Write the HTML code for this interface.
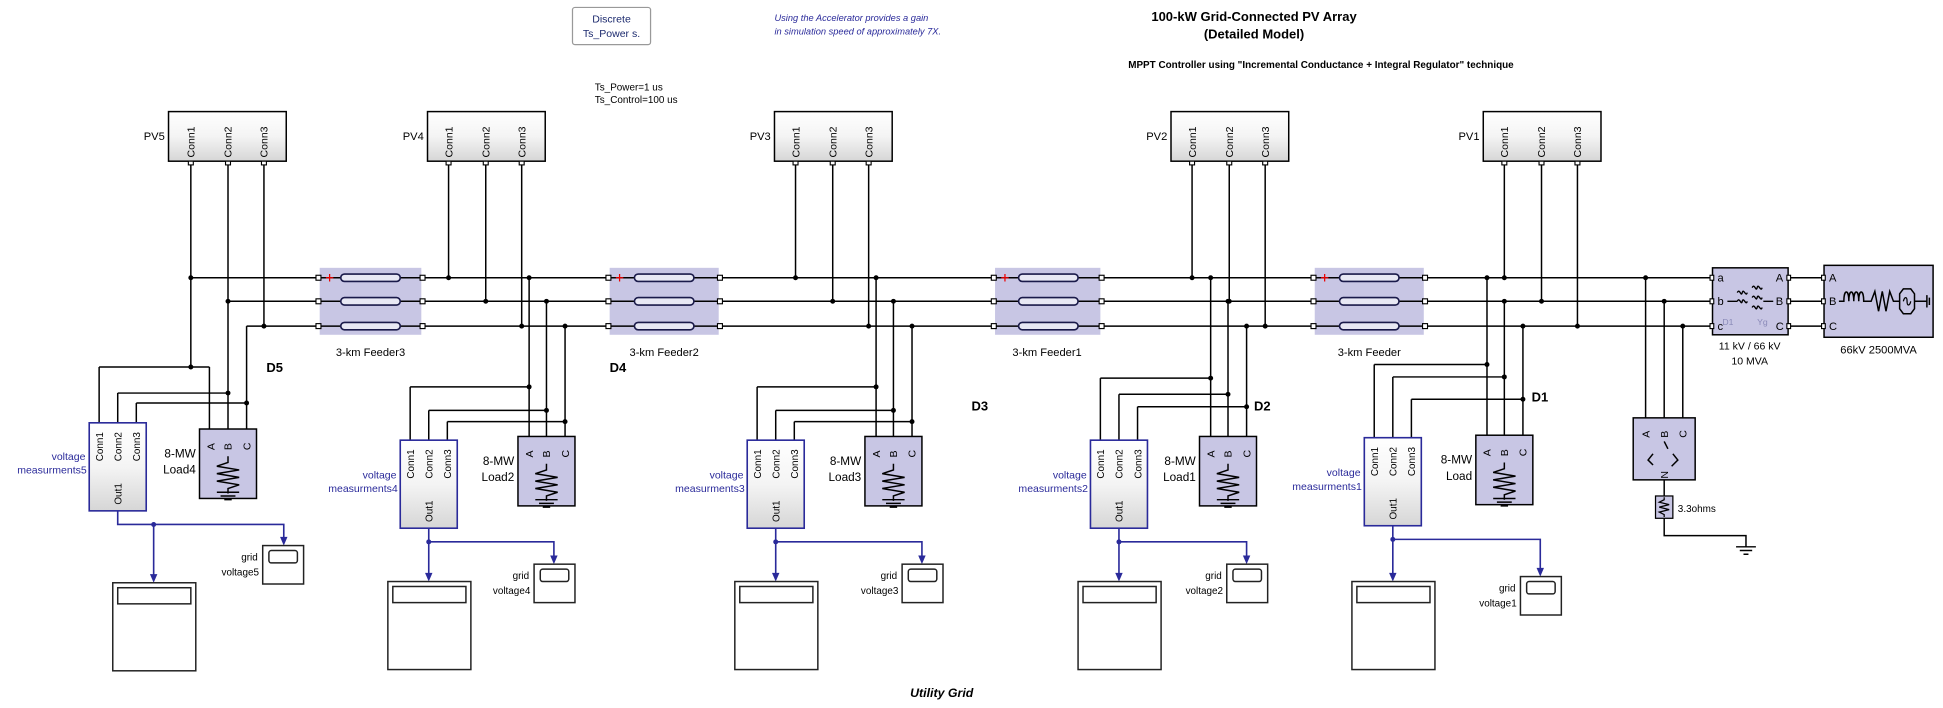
<!DOCTYPE html>
<html><head><meta charset="utf-8"><style>
html,body{margin:0;padding:0;background:#fff;}
svg{display:block;font-family:"Liberation Sans",sans-serif;}
</style></head><body>
<svg width="1943" height="708" viewBox="0 0 1568 571" preserveAspectRatio="none" xmlns="http://www.w3.org/2000/svg">
<defs>
<linearGradient id="gw" x1="0" y1="0" x2="0" y2="1"><stop offset="0" stop-color="#ffffff"/><stop offset="0.5" stop-color="#f4f4f4"/><stop offset="1" stop-color="#d6d6d6"/></linearGradient>
<g id="loadsym" fill="none" stroke="#000" stroke-width="1.2">
<path d="M23 22 v5 l-9 3 l18 3 l-18 3 l18 3 l-18 3 l18 3 l-9 3 v4 M14 51 h18 M17 54 h12 M20 57 h6"/>
</g>
<g id="cap"><rect x="0" y="-3" width="48" height="6" rx="3" fill="#e8e8f4" stroke="#1a1a4a" stroke-width="1.3"/></g>
</defs>
<rect width="1568" height="571" fill="#fff"/>

<!-- top texts -->
<rect x="462" y="6" width="63" height="30" fill="#fff" stroke="#999" stroke-width="1" rx="2"/>
<text x="493.5" y="18" font-size="8.5" fill="#1c2a6e" text-anchor="middle">Discrete</text>
<text x="493.5" y="30" font-size="8.5" fill="#1c2a6e" text-anchor="middle">Ts_Power s.</text>
<text x="625" y="17" font-size="7.5" font-style="italic" fill="#2a2a9a">Using the Accelerator provides a gain</text>
<text x="625" y="28" font-size="7.5" font-style="italic" fill="#2a2a9a">in simulation speed of approximately 7X.</text>
<text x="1012" y="17" font-size="10.5" font-weight="bold" text-anchor="middle">100-kW Grid-Connected PV Array</text>
<text x="1012" y="31" font-size="10.5" font-weight="bold" text-anchor="middle">(Detailed Model)</text>
<text x="1066" y="55" font-size="8" font-weight="bold" text-anchor="middle">MPPT Controller using  "Incremental Conductance + Integral Regulator"  technique</text>
<text x="480" y="73" font-size="8">Ts_Power=1 us</text>
<text x="480" y="83" font-size="8">Ts_Control=100 us</text>
<text x="760" y="562" font-size="10" font-weight="bold" font-style="italic" text-anchor="middle">Utility Grid</text>

<!-- buses -->
<g stroke="#000" stroke-width="1.2" fill="none">
<path d="M154 224 H1382 M184 243 H1382 M199 263 H1382"/>
<path d="M1443 224 H1472 M1443 243 H1472 M1443 263 H1472"/>
</g>

<!-- feeders -->
<g>
<rect x="258" y="216" width="82" height="54" fill="#c8c6e4"/>
<rect x="492" y="216" width="88" height="54" fill="#c8c6e4"/>
<rect x="803" y="216" width="85" height="54" fill="#c8c6e4"/>
<rect x="1061" y="216" width="88" height="54" fill="#c8c6e4"/>
<g stroke="#000" stroke-width="1.2"><path d="M258 224H340M258 243H340M258 263H340M492 224H580M492 243H580M492 263H580M803 224H888M803 243H888M803 263H888M1061 224H1149M1061 243H1149M1061 263H1149"/></g>
<use href="#cap" x="275" y="224"/><use href="#cap" x="275" y="243"/><use href="#cap" x="275" y="263"/>
<use href="#cap" x="512" y="224"/><use href="#cap" x="512" y="243"/><use href="#cap" x="512" y="263"/>
<use href="#cap" x="822" y="224"/><use href="#cap" x="822" y="243"/><use href="#cap" x="822" y="263"/>
<use href="#cap" x="1081" y="224"/><use href="#cap" x="1081" y="243"/><use href="#cap" x="1081" y="263"/>
<g stroke="#e00" stroke-width="1"><path d="M263 224h6M266 221v6M497 224h6M500 221v6M808 224h6M811 221v6M1066 224h6M1069 221v6"/></g>
<g fill="#fff" stroke="#000" stroke-width="0.9">
<rect x="255" y="222" width="4" height="4"/><rect x="255" y="241" width="4" height="4"/><rect x="255" y="261" width="4" height="4"/>
<rect x="339" y="222" width="4" height="4"/><rect x="339" y="241" width="4" height="4"/><rect x="339" y="261" width="4" height="4"/>
<rect x="489" y="222" width="4" height="4"/><rect x="489" y="241" width="4" height="4"/><rect x="489" y="261" width="4" height="4"/>
<rect x="579" y="222" width="4" height="4"/><rect x="579" y="241" width="4" height="4"/><rect x="579" y="261" width="4" height="4"/>
<rect x="800" y="222" width="4" height="4"/><rect x="800" y="241" width="4" height="4"/><rect x="800" y="261" width="4" height="4"/>
<rect x="887" y="222" width="4" height="4"/><rect x="887" y="241" width="4" height="4"/><rect x="887" y="261" width="4" height="4"/>
<rect x="1058" y="222" width="4" height="4"/><rect x="1058" y="241" width="4" height="4"/><rect x="1058" y="261" width="4" height="4"/>
<rect x="1148" y="222" width="4" height="4"/><rect x="1148" y="241" width="4" height="4"/><rect x="1148" y="261" width="4" height="4"/>
</g>
<g font-size="9" text-anchor="middle">
<text x="299" y="287">3-km Feeder3</text><text x="536" y="287">3-km Feeder2</text><text x="845" y="287">3-km Feeder1</text><text x="1105" y="287">3-km Feeder</text>
</g>
</g>

<!-- D labels -->
<g font-size="10.5" font-weight="bold">
<text x="215" y="300">D5</text><text x="492" y="300">D4</text><text x="784" y="331">D3</text><text x="1012" y="331">D2</text><text x="1236" y="324">D1</text>
</g>

<!-- PV boxes -->
<g>
<rect x="136" y="90" width="95" height="40" fill="url(#gw)" stroke="#000" stroke-width="1.2"/>
<rect x="345" y="90" width="95" height="40" fill="url(#gw)" stroke="#000" stroke-width="1.2"/>
<rect x="625" y="90" width="95" height="40" fill="url(#gw)" stroke="#000" stroke-width="1.2"/>
<rect x="945" y="90" width="95" height="40" fill="url(#gw)" stroke="#000" stroke-width="1.2"/>
<rect x="1197" y="90" width="95" height="40" fill="url(#gw)" stroke="#000" stroke-width="1.2"/>
<g font-size="9" text-anchor="end"><text x="133" y="113">PV5</text><text x="342" y="113">PV4</text><text x="622" y="113">PV3</text><text x="942" y="113">PV2</text><text x="1194" y="113">PV1</text></g>
<g font-size="8.5">
<text transform="translate(157,127) rotate(-90)">Conn1</text><text transform="translate(187,127) rotate(-90)">Conn2</text><text transform="translate(216,127) rotate(-90)">Conn3</text>
<text transform="translate(365,127) rotate(-90)">Conn1</text><text transform="translate(395,127) rotate(-90)">Conn2</text><text transform="translate(424,127) rotate(-90)">Conn3</text>
<text transform="translate(645,127) rotate(-90)">Conn1</text><text transform="translate(675,127) rotate(-90)">Conn2</text><text transform="translate(704,127) rotate(-90)">Conn3</text>
<text transform="translate(965,127) rotate(-90)">Conn1</text><text transform="translate(995,127) rotate(-90)">Conn2</text><text transform="translate(1024,127) rotate(-90)">Conn3</text>
<text transform="translate(1217,127) rotate(-90)">Conn1</text><text transform="translate(1247,127) rotate(-90)">Conn2</text><text transform="translate(1276,127) rotate(-90)">Conn3</text>
</g>
</g>

<!-- black wiring -->
<g stroke="#000" stroke-width="1.2" fill="none">
<!-- D5 -->
<path d="M154 130V296M80 296H169M80 296V341M169 296V346"/>
<path d="M184 130V317M95 317H184M95 317V341M184 317V346"/>
<path d="M213 130V263"/>
<path d="M199 263V346M110 325H199M110 325V341"/>
<!-- D4 -->
<path d="M362 130V224M392 130V243M421 130V263"/>
<path d="M427 224V352M441 243V352M456 263V352"/>
<path d="M331 312H427M331 312V355M346 331H441M346 331V355M361 340H456M361 340V355"/>
<!-- D3 -->
<path d="M642 130V224M672 130V243M701 130V263"/>
<path d="M707 224V352M721 243V352M736 263V352"/>
<path d="M611 312H707M611 312V355M626 331H721M626 331V355M641 340H736M641 340V355"/>
<!-- D2 -->
<path d="M962 130V224M992 130V243M1021 130V263"/>
<path d="M977 224V352M991 243V352M1006 263V352"/>
<path d="M888 305H977M888 305V355M903 318H991M903 318V355M918 328H1006M918 328V355"/>
<!-- D1 -->
<path d="M1214 130V224M1244 130V243M1273 130V263"/>
<path d="M1200 224V351M1214 243V351M1229 263V351"/>
<path d="M1109 294H1200M1109 294V353M1124 304H1214M1124 304V353M1139 322H1229M1139 322V353"/>
<!-- fault branch -->
<path d="M1328 224V337M1343 243V337M1358 263V337"/>
<path d="M1343 387V400M1343 418V432H1409V441M1401 441H1417M1404 444H1414M1407 447H1411"/>
</g>

<!-- junction dots -->
<g fill="#000">
<circle cx="154" cy="224" r="2"/><circle cx="154" cy="296" r="2"/><circle cx="184" cy="243" r="2"/><circle cx="184" cy="317" r="2"/><circle cx="213" cy="263" r="2"/><circle cx="199" cy="325" r="2"/>
<circle cx="362" cy="224" r="2"/><circle cx="392" cy="243" r="2"/><circle cx="421" cy="263" r="2"/><circle cx="427" cy="224" r="2"/><circle cx="441" cy="243" r="2"/><circle cx="456" cy="263" r="2"/><circle cx="427" cy="312" r="2"/><circle cx="441" cy="331" r="2"/><circle cx="456" cy="340" r="2"/>
<circle cx="642" cy="224" r="2"/><circle cx="672" cy="243" r="2"/><circle cx="701" cy="263" r="2"/><circle cx="707" cy="224" r="2"/><circle cx="721" cy="243" r="2"/><circle cx="736" cy="263" r="2"/><circle cx="707" cy="312" r="2"/><circle cx="721" cy="331" r="2"/><circle cx="736" cy="340" r="2"/>
<circle cx="962" cy="224" r="2"/><circle cx="992" cy="243" r="2"/><circle cx="1021" cy="263" r="2"/><circle cx="977" cy="224" r="2"/><circle cx="991" cy="243" r="2"/><circle cx="1006" cy="263" r="2"/><circle cx="977" cy="305" r="2"/><circle cx="991" cy="318" r="2"/><circle cx="1006" cy="328" r="2"/>
<circle cx="1214" cy="224" r="2"/><circle cx="1244" cy="243" r="2"/><circle cx="1273" cy="263" r="2"/><circle cx="1200" cy="224" r="2"/><circle cx="1214" cy="243" r="2"/><circle cx="1229" cy="263" r="2"/><circle cx="1200" cy="294" r="2"/><circle cx="1214" cy="304" r="2"/><circle cx="1229" cy="322" r="2"/>
<circle cx="1328" cy="224" r="2"/><circle cx="1343" cy="243" r="2"/><circle cx="1358" cy="263" r="2"/>
</g>

<!-- loads -->
<g>
<rect x="161" y="346" width="46" height="56" fill="#c8c6e4" stroke="#000" stroke-width="1.2"/>
<rect x="418" y="352" width="46" height="56" fill="#c8c6e4" stroke="#000" stroke-width="1.2"/>
<rect x="698" y="352" width="46" height="56" fill="#c8c6e4" stroke="#000" stroke-width="1.2"/>
<rect x="968" y="352" width="46" height="56" fill="#c8c6e4" stroke="#000" stroke-width="1.2"/>
<rect x="1191" y="351" width="46" height="56" fill="#c8c6e4" stroke="#000" stroke-width="1.2"/>
<use href="#loadsym" x="161" y="346"/><use href="#loadsym" x="418" y="352"/><use href="#loadsym" x="698" y="352"/><use href="#loadsym" x="968" y="352"/><use href="#loadsym" x="1191" y="351"/>
<g font-size="8.5">
<text transform="translate(173,363) rotate(-90)">A</text><text transform="translate(187,363) rotate(-90)">B</text><text transform="translate(202,363) rotate(-90)">C</text>
<text transform="translate(430,369) rotate(-90)">A</text><text transform="translate(444,369) rotate(-90)">B</text><text transform="translate(459,369) rotate(-90)">C</text>
<text transform="translate(710,369) rotate(-90)">A</text><text transform="translate(724,369) rotate(-90)">B</text><text transform="translate(739,369) rotate(-90)">C</text>
<text transform="translate(980,369) rotate(-90)">A</text><text transform="translate(994,369) rotate(-90)">B</text><text transform="translate(1009,369) rotate(-90)">C</text>
<text transform="translate(1203,368) rotate(-90)">A</text><text transform="translate(1217,368) rotate(-90)">B</text><text transform="translate(1232,368) rotate(-90)">C</text>
</g>
<g font-size="9.5" text-anchor="end">
<text x="158" y="369">8-MW</text><text x="158" y="382">Load4</text>
<text x="415" y="375">8-MW</text><text x="415" y="388">Load2</text>
<text x="695" y="375">8-MW</text><text x="695" y="388">Load3</text>
<text x="965" y="375">8-MW</text><text x="965" y="388">Load1</text>
<text x="1188" y="374">8-MW</text><text x="1188" y="387">Load</text>
</g>
</g>

<!-- measurement blocks -->
<g>
<rect x="72" y="341" width="46" height="71" fill="url(#gw)" stroke="#2a2a9a" stroke-width="1.3"/>
<rect x="323" y="355" width="46" height="71" fill="url(#gw)" stroke="#2a2a9a" stroke-width="1.3"/>
<rect x="603" y="355" width="46" height="71" fill="url(#gw)" stroke="#2a2a9a" stroke-width="1.3"/>
<rect x="880" y="355" width="46" height="71" fill="url(#gw)" stroke="#2a2a9a" stroke-width="1.3"/>
<rect x="1101" y="353" width="46" height="71" fill="url(#gw)" stroke="#2a2a9a" stroke-width="1.3"/>
<g font-size="8">
<text transform="translate(83,372) rotate(-90)">Conn1</text><text transform="translate(98,372) rotate(-90)">Conn2</text><text transform="translate(113,372) rotate(-90)">Conn3</text><text transform="translate(98,407) rotate(-90)">Out1</text>
<text transform="translate(334,386) rotate(-90)">Conn1</text><text transform="translate(349,386) rotate(-90)">Conn2</text><text transform="translate(364,386) rotate(-90)">Conn3</text><text transform="translate(349,421) rotate(-90)">Out1</text>
<text transform="translate(614,386) rotate(-90)">Conn1</text><text transform="translate(629,386) rotate(-90)">Conn2</text><text transform="translate(644,386) rotate(-90)">Conn3</text><text transform="translate(629,421) rotate(-90)">Out1</text>
<text transform="translate(891,386) rotate(-90)">Conn1</text><text transform="translate(906,386) rotate(-90)">Conn2</text><text transform="translate(921,386) rotate(-90)">Conn3</text><text transform="translate(906,421) rotate(-90)">Out1</text>
<text transform="translate(1112,384) rotate(-90)">Conn1</text><text transform="translate(1127,384) rotate(-90)">Conn2</text><text transform="translate(1142,384) rotate(-90)">Conn3</text><text transform="translate(1127,419) rotate(-90)">Out1</text>
</g>
<g font-size="8.5" fill="#2a2a9a" text-anchor="end">
<text x="69" y="371">voltage</text><text x="70" y="382">measurments5</text>
<text x="320" y="386">voltage</text><text x="321" y="397">measurments4</text>
<text x="600" y="386">voltage</text><text x="601" y="397">measurments3</text>
<text x="877" y="386">voltage</text><text x="878" y="397">measurments2</text>
<text x="1098" y="384">voltage</text><text x="1099" y="395">measurments1</text>
</g>
</g>

<!-- blue signal lines -->
<g stroke="#2a2a9a" stroke-width="1.3" fill="none">
<path d="M95 412V423H229V434M124 423V464"/>
<path d="M346 426V437H447V449M346 437V463"/>
<path d="M626 426V437H744V449M626 437V463"/>
<path d="M903 426V437H1006V449M903 437V463"/>
<path d="M1124 424V435H1243V459M1124 435V463"/>
</g>
<g fill="#2a2a9a">
<circle cx="124" cy="423" r="2"/><circle cx="346" cy="437" r="2"/><circle cx="626" cy="437" r="2"/><circle cx="903" cy="437" r="2"/><circle cx="1124" cy="435" r="2"/>
<path d="M226 433h6l-3 7z"/><path d="M121 463h6l-3 7z"/>
<path d="M444 448h6l-3 7z"/><path d="M343 462h6l-3 7z"/>
<path d="M741 448h6l-3 7z"/><path d="M623 462h6l-3 7z"/>
<path d="M1003 448h6l-3 7z"/><path d="M900 462h6l-3 7z"/>
<path d="M1240 458h6l-3 7z"/><path d="M1121 462h6l-3 7z"/>
</g>

<!-- scopes -->
<g fill="#fff" stroke="#222" stroke-width="1.2">
<rect x="91" y="470" width="67" height="71"/><rect x="95" y="474" width="59" height="13"/>
<rect x="313" y="469" width="67" height="71"/><rect x="317" y="473" width="59" height="13"/>
<rect x="593" y="469" width="67" height="71"/><rect x="597" y="473" width="59" height="13"/>
<rect x="870" y="469" width="67" height="71"/><rect x="874" y="473" width="59" height="13"/>
<rect x="1091" y="469" width="67" height="71"/><rect x="1095" y="473" width="59" height="13"/>
<rect x="212" y="440" width="33" height="31"/><rect x="217" y="444" width="23" height="10" rx="2"/>
<rect x="431" y="455" width="33" height="31"/><rect x="436" y="459" width="23" height="10" rx="2"/>
<rect x="728" y="455" width="33" height="31"/><rect x="733" y="459" width="23" height="10" rx="2"/>
<rect x="990" y="455" width="33" height="31"/><rect x="995" y="459" width="23" height="10" rx="2"/>
<rect x="1227" y="465" width="33" height="31"/><rect x="1232" y="469" width="23" height="10" rx="2"/>
</g>
<g font-size="8" text-anchor="end">
<text x="208" y="452">grid</text><text x="209" y="464">voltage5</text>
<text x="427" y="467">grid</text><text x="428" y="479">voltage4</text>
<text x="724" y="467">grid</text><text x="725" y="479">voltage3</text>
<text x="986" y="467">grid</text><text x="987" y="479">voltage2</text>
<text x="1223" y="477">grid</text><text x="1224" y="489">voltage1</text>
</g>

<!-- fault / grounding -->
<rect x="1318" y="337" width="50" height="50" fill="#c8c6e4" stroke="#000" stroke-width="1.2"/>
<g font-size="8.5">
<text transform="translate(1331,353) rotate(-90)">A</text><text transform="translate(1346,353) rotate(-90)">B</text><text transform="translate(1361,353) rotate(-90)">C</text>
<text transform="translate(1346,386) rotate(-90)">N</text>
</g>
<path d="M1343 356l3 6M1334 366l-4 5l4 4M1350 366l4 5l-5 5" stroke="#000" stroke-width="1.2" fill="none"/>
<rect x="1336" y="400" width="14" height="18" fill="#c8c6e4" stroke="#000" stroke-width="1"/>
<path d="M1343 401v2l-4 2l8 2l-8 2l8 2l-8 2l4 2v2" stroke="#000" stroke-width="1" fill="none"/>
<text x="1354" y="413" font-size="8">3.3ohms</text>

<!-- transformer -->
<rect x="1382" y="216" width="61" height="54" fill="#c8c6e4" stroke="#000" stroke-width="1.2"/>
<g font-size="9"><text x="1386" y="227">a</text><text x="1386" y="246">b</text><text x="1386" y="266">c</text>
<text x="1433" y="227">A</text><text x="1433" y="246">B</text><text x="1433" y="266">C</text></g>
<g font-size="7" fill="#8a8ab8"><text x="1390" y="262">D1</text><text x="1418" y="262">Yg</text></g>
<path d="M1394 243h8M1423 243h8M1402 236c2-4 3 4 4 0c1-4 3 4 4 0M1402 243c2-4 3 4 4 0c1-4 3 4 4 0M1414 232c2-4 3 4 4 0c1-4 3 4 4 0M1414 240c2-4 3 4 4 0c1-4 3 4 4 0M1414 248c2-4 3 4 4 0c1-4 3 4 4 0" stroke="#000" stroke-width="1.1" fill="none"/>
<g font-size="8.5" text-anchor="middle"><text x="1412" y="282">11 kV / 66 kV</text><text x="1412" y="294">10 MVA</text></g>
<!-- source -->
<rect x="1472" y="214" width="88" height="58" fill="#c8c6e4" stroke="#000" stroke-width="1.2"/>
<g font-size="9"><text x="1476" y="227">A</text><text x="1476" y="246">B</text><text x="1476" y="266">C</text></g>
<path d="M1484 243h4c0-10 4-10 4 0c0-10 4-10 4 0c0-10 4-10 4 0c0-10 4-10 4 0h6l3-8l3 16l3-16l3 16l3-16l3 8h4M1533 243h-2M1545 243h10M1555 238v10M1557 240v6" stroke="#000" stroke-width="1.2" fill="none"/>
<polygon points="1533,237 1536,233 1542,233 1545,237 1545,249 1542,253 1536,253 1533,249" fill="none" stroke="#000" stroke-width="1.2"/>
<path d="M1536 243c1-4 3-4 3 0s2 4 3 0" stroke="#000" fill="none"/>
<text x="1516" y="285" font-size="9" text-anchor="middle">66kV 2500MVA</text>

<!-- port squares on blocks -->
<g fill="#fff" stroke="#000" stroke-width="0.9">
<rect x="152" y="130" width="4" height="3"/><rect x="182" y="130" width="4" height="3"/><rect x="211" y="130" width="4" height="3"/>
<rect x="360" y="130" width="4" height="3"/><rect x="390" y="130" width="4" height="3"/><rect x="419" y="130" width="4" height="3"/>
<rect x="640" y="130" width="4" height="3"/><rect x="670" y="130" width="4" height="3"/><rect x="699" y="130" width="4" height="3"/>
<rect x="960" y="130" width="4" height="3"/><rect x="990" y="130" width="4" height="3"/><rect x="1019" y="130" width="4" height="3"/>
<rect x="1212" y="130" width="4" height="3"/><rect x="1242" y="130" width="4" height="3"/><rect x="1271" y="130" width="4" height="3"/>
<rect x="1380" y="222" width="3" height="4"/><rect x="1380" y="241" width="3" height="4"/><rect x="1380" y="261" width="3" height="4"/>
<rect x="1442" y="222" width="3" height="4"/><rect x="1442" y="241" width="3" height="4"/><rect x="1442" y="261" width="3" height="4"/>
<rect x="1470" y="222" width="3" height="4"/><rect x="1470" y="241" width="3" height="4"/><rect x="1470" y="261" width="3" height="4"/>
</g>
</svg>
</body></html>
